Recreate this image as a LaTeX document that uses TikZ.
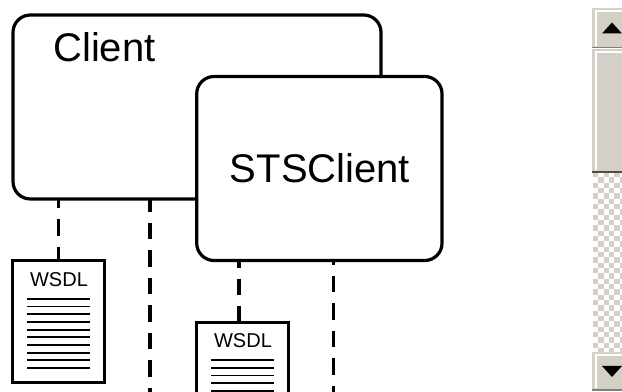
\documentclass[tikz,border=0pt]{standalone}
\usepackage{fontspec}
\setmainfont{Liberation Sans}
\definecolor{sbface}{HTML}{D4D0C8}
\definecolor{sbdark}{HTML}{808080}
\tikzset{
  x=0.75pt,y=-0.75pt,
  roundbox/.style={draw=black,fill=white,line width=2.4pt,rounded corners=13pt,inner sep=0pt,outer sep=0pt,anchor=north west},
  docbox/.style={draw=black,fill=white,line width=2.4pt,inner sep=0pt,outer sep=0pt,anchor=north west,minimum width=69pt,minimum height=91.5pt},
  dashline/.style={draw=black,line width=2.4pt,dash pattern=on 12.4pt off 8.2pt,dash phase=#1},
  textline/.style={draw=black,line width=1.25pt},
  bigtext/.style={font=\fontsize{30}{30}\selectfont,inner sep=0pt},
  smalltext/.style={font=\fontsize{15}{15}\selectfont,inner sep=0pt},
  sbbutton/.style={fill=sbface},
  sbarrow/.style={fill=black},
}
\begin{document}
\begin{tikzpicture}
\clip (0,0) rectangle (622,392);
\fill[white] (0,0) rectangle (622,392);
% scrollbar
\fill[white] (593,172) rectangle (622,352);
\foreach \i in {0,...,33}{\foreach \j in {0,...,5}{
  \pgfmathtruncatemacro{\k}{mod(\i+\j,2)}
  \ifnum\k=0 \fill[sbface] ({593+\j*5.33},{172+\i*5.33}) rectangle ++(5.33,5.33);\fi
}}
\fill[sbbutton] (592,8) rectangle (622,47);
\draw[sbdark,line width=1pt] (592,47.5) -- (622,47.5);
\draw[white,line width=0.8pt] (596,46) -- (596,11) -- (622,11);
\fill[sbbutton] (592,49) rectangle (622,172);
\draw[black!70,line width=0.8pt] (592,172) -- (622,172);
\draw[white,line width=0.8pt] (596,170) -- (596,52) -- (622,52);
\fill[sbbutton] (592,352) rectangle (622,389);
\draw[sbdark,line width=1pt] (592,390) -- (622,390);
\draw[white,line width=0.8pt] (596,388) -- (596,355) -- (622,355);
\fill[sbarrow] (602,33.5) -- (612,22.5) -- (622,33.5) -- cycle;
\fill[sbarrow] (602,366) -- (622,366) -- (612,377) -- cycle;
% boxes
\node[roundbox,minimum width=276pt,minimum height=138pt] (client) at (13,15) {};
\node[bigtext,anchor=base west] (clientlabel) at (53,62) {Client};
\coordinate (free1) at (150,392);
\coordinate (free2) at (333.5,392);
\coordinate (stub2) at (239,322);
\node[docbox] (doc1) at (12.7,260.7) {};
\node[docbox] (doc2) at (196.7,322.7) {};
\draw[dashline=5.5pt] (doc1.north |- client.south) -- (doc1.north);
\draw[dashline=2.7pt] (free1 |- client.south) -- (free1);
\node[roundbox,minimum width=184pt,minimum height=138pt] (sts) at (196.7,76.5) {};
\node[bigtext,anchor=base] (stslabel) at (320,183) {STSClient};
\draw[dashline=7pt] (stub2 |- sts.south) -- (stub2 |- doc2.north);
\draw[dashline=9pt] (free2 |- sts.south) -- (free2);
\node[smalltext,anchor=base] (w1) at (59,287) {WSDL};
\node[smalltext,anchor=base] (w2) at (243,348) {WSDL};
\foreach \y in {298.7,306.4,314,321.8,329.7,337,345,352.7,360,368}{
  \draw[textline] (27,\y) -- (90,\y);
}
\foreach \y in {360,368,375.6,383.3,391}{
  \draw[textline] (211,\y) -- (274,\y);
}
\end{tikzpicture}
\end{document}
